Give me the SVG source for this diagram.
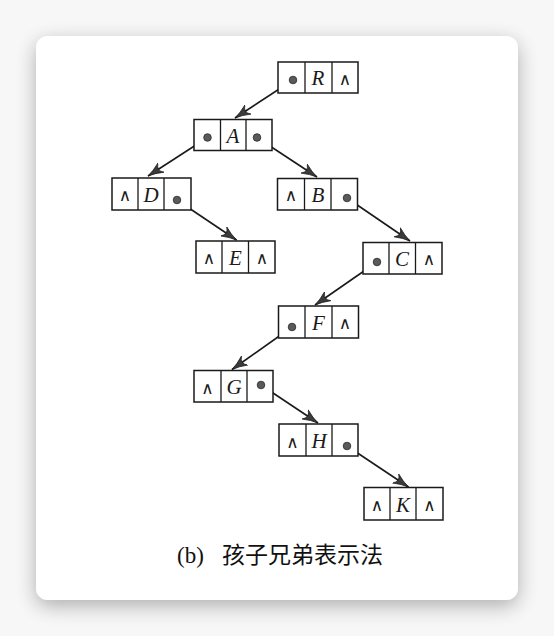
<svg xmlns="http://www.w3.org/2000/svg" width="554" height="636" viewBox="0 0 554 636">
<style>
.box{fill:#fff;stroke:#1a1a1a;stroke-width:1.5}
.div{stroke:#1a1a1a;stroke-width:1.3}
.lab{font-family:"Liberation Serif","DejaVu Serif",serif;font-style:italic;font-size:21px;fill:#1a1a1a;text-anchor:middle}
.nil{font-family:"DejaVu Sans",sans-serif;font-size:17px;fill:#1a1a1a;text-anchor:middle}
.dot{fill:#5a5a5a;stroke:#2a2a2a;stroke-width:0.8}
.edge{stroke:#1a1a1a;stroke-width:1.6;fill:none;marker-end:url(#ah)}
.cap{font-size:23px;fill:#111}
</style>
<defs>
<filter id="sh" x="-20%" y="-20%" width="140%" height="140%">
<feGaussianBlur in="SourceAlpha" stdDeviation="10"/>
<feOffset dy="6"/>
<feComponentTransfer><feFuncA type="linear" slope="0.3"/></feComponentTransfer>
<feMerge><feMergeNode/><feMergeNode in="SourceGraphic"/></feMerge>
</filter>
<marker id="ah" viewBox="0 0 16 12" refX="15.5" refY="6" markerWidth="16" markerHeight="12" markerUnits="userSpaceOnUse" orient="auto">
<path d="M0,0.5 Q8,4.5 15.5,6 Q8,7.5 0,11.5 Q6,6 0,0.5z" fill="#3a3a3a" stroke="#1a1a1a" stroke-width="0.7"/>
</marker>
</defs>
<rect width="554" height="636" fill="#f7f7f7"/>
<rect x="36" y="36" width="482" height="564" rx="12" fill="#fff" filter="url(#sh)"/>

<g id="connectors">
<line class="edge" x1="293" y1="80" x2="235" y2="118"/>
<line class="edge" x1="207.5" y1="137.5" x2="148" y2="176"/>
<line class="edge" x1="257" y1="137.5" x2="317" y2="177"/>
<line class="edge" x1="177" y1="200" x2="236.5" y2="240"/>
<line class="edge" x1="347" y1="198" x2="410" y2="241"/>
<line class="edge" x1="377" y1="262" x2="315" y2="305"/>
<line class="edge" x1="292" y1="327" x2="232" y2="369.5"/>
<line class="edge" x1="261" y1="385" x2="318" y2="423"/>
<line class="edge" x1="347" y1="446" x2="408.5" y2="487"/>
</g>

<g id="node-R">
<rect class="box" x="278" y="62" width="80" height="31"/>
<line class="div" x1="305" y1="62" x2="305" y2="93"/><line class="div" x1="332" y1="62" x2="332" y2="93"/>
<text class="lab" x="318" y="85">R</text>
<text class="nil" x="345" y="85">∧</text>
</g>
<g id="node-A">
<rect class="box" x="194" y="119.5" width="78" height="31"/>
<line class="div" x1="220.5" y1="119.5" x2="220.5" y2="150.5"/><line class="div" x1="246" y1="119.5" x2="246" y2="150.5"/>
<text class="lab" x="233" y="142.5">A</text>
</g>
<g id="node-D">
<rect class="box" x="112" y="178" width="79" height="32"/>
<line class="div" x1="138" y1="178" x2="138" y2="210"/><line class="div" x1="164" y1="178" x2="164" y2="210"/>
<text class="nil" x="125" y="201">∧</text>
<text class="lab" x="151" y="201.5">D</text>
</g>
<g id="node-E">
<rect class="box" x="196" y="241" width="79" height="32"/>
<line class="div" x1="222" y1="241" x2="222" y2="273"/><line class="div" x1="248.5" y1="241" x2="248.5" y2="273"/>
<text class="nil" x="209" y="264">∧</text>
<text class="lab" x="235.5" y="264.5">E</text>
<text class="nil" x="262" y="264">∧</text>
</g>
<g id="node-B">
<rect class="box" x="277.5" y="178.5" width="80" height="31.5"/>
<line class="div" x1="304.5" y1="178.5" x2="304.5" y2="210"/><line class="div" x1="331" y1="178.5" x2="331" y2="210"/>
<text class="nil" x="291" y="201">∧</text>
<text class="lab" x="318" y="201.5">B</text>
</g>
<g id="node-C">
<rect class="box" x="363" y="242.5" width="79" height="31.5"/>
<line class="div" x1="389" y1="242.5" x2="389" y2="274"/><line class="div" x1="415.5" y1="242.5" x2="415.5" y2="274"/>
<text class="lab" x="402" y="265.5">C</text>
<text class="nil" x="429" y="265">∧</text>
</g>
<g id="node-F">
<rect class="box" x="278.5" y="306" width="80" height="32"/>
<line class="div" x1="305" y1="306" x2="305" y2="338"/><line class="div" x1="332" y1="306" x2="332" y2="338"/>
<text class="lab" x="318.5" y="329.5">F</text>
<text class="nil" x="345" y="329">∧</text>
</g>
<g id="node-G">
<rect class="box" x="194" y="370.5" width="79" height="31.5"/>
<line class="div" x1="221" y1="370.5" x2="221" y2="402"/><line class="div" x1="247" y1="370.5" x2="247" y2="402"/>
<text class="nil" x="207.5" y="393.5">∧</text>
<text class="lab" x="234" y="394">G</text>
</g>
<g id="node-H">
<rect class="box" x="279" y="424" width="79" height="32"/>
<line class="div" x1="306" y1="424" x2="306" y2="456"/><line class="div" x1="332" y1="424" x2="332" y2="456"/>
<text class="nil" x="292.5" y="447.5">∧</text>
<text class="lab" x="319" y="448">H</text>
</g>
<g id="node-K">
<rect class="box" x="364" y="487.5" width="79" height="32.5"/>
<line class="div" x1="390" y1="487.5" x2="390" y2="520"/><line class="div" x1="416" y1="487.5" x2="416" y2="520"/>
<text class="nil" x="377" y="511">∧</text>
<text class="lab" x="403" y="511.5">K</text>
<text class="nil" x="429.5" y="511">∧</text>
</g>

<g id="dots">
<circle class="dot" cx="293" cy="80" r="3.8"/>
<circle class="dot" cx="207.5" cy="137.5" r="3.8"/>
<circle class="dot" cx="257" cy="137.5" r="3.8"/>
<circle class="dot" cx="177" cy="200" r="3.8"/>
<circle class="dot" cx="347" cy="198" r="3.8"/>
<circle class="dot" cx="377" cy="262" r="3.8"/>
<circle class="dot" cx="292" cy="327" r="3.8"/>
<circle class="dot" cx="261" cy="385" r="3.8"/>
<circle class="dot" cx="347" cy="446" r="3.8"/>
</g>

<text class="cap" y="563"><tspan x="177" font-family="Liberation Serif, serif">(b)</tspan><tspan x="222" font-family="Noto Sans CJK SC, sans-serif">孩子兄弟表示法</tspan></text>
</svg>
